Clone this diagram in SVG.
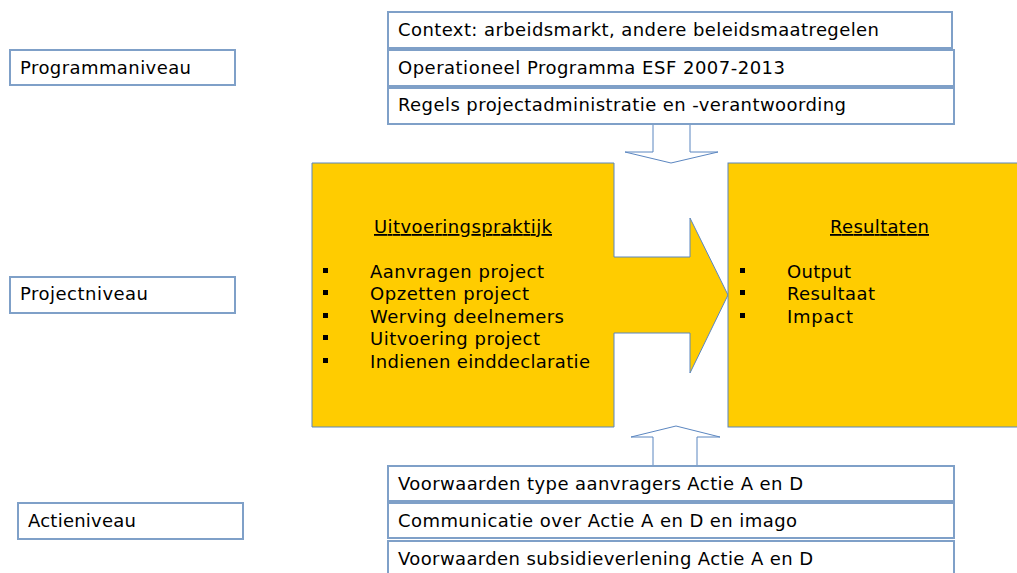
<svg xmlns="http://www.w3.org/2000/svg" width="1017" height="573" viewBox="0 0 1017 573">
<style>
.box{fill:#fff;stroke:#7fa0c8;stroke-width:2}
.ybox{fill:#ffcc00;stroke:#5b86c0;stroke-width:1}
.arr{fill:#fff;stroke:#5b86c0;stroke-width:1}
text{font-family:"DejaVu Sans",Verdana,sans-serif;font-size:18px;fill:#000}
.h{text-decoration:underline}
.b{fill:#000}
</style>
<rect width="1017" height="573" fill="#fff"/>
<g id="connectors">
<path class="arr" d="M653,124 V152 H625 L671,163 L718,152 H690 V124"/>
<path class="arr" d="M653,466 V437 H631 L676,426 L720,437 H697 V466"/>
</g>
<g id="programmaniveau"><rect class="box" x="10" y="50" width="225" height="35"/><text x="20" y="74" textLength="171">Programmaniveau</text></g>
<g id="projectniveau"><rect class="box" x="10" y="277" width="225" height="36"/><text x="20" y="300" textLength="128">Projectniveau</text></g>
<g id="actieniveau"><rect class="box" x="18" y="503" width="225" height="36"/><text x="28" y="527" textLength="108">Actieniveau</text></g>
<g id="context"><rect class="box" x="388" y="12" width="564" height="36"/><text x="398" y="36" textLength="481">Context: arbeidsmarkt, andere beleidsmaatregelen</text></g>
<g id="op"><rect class="box" x="388" y="50" width="566" height="36"/><text x="398" y="74" textLength="387">Operationeel Programma ESF 2007-2013</text></g>
<g id="regels"><rect class="box" x="388" y="88" width="566" height="36"/><text x="398" y="111" textLength="448">Regels projectadministratie en -verantwoording</text></g>
<g id="uitvoering">
<path class="ybox" d="M312,163 H614 V257 H690 V218 L728,295 L690,373 V333 H614 V427 H312 Z"/>
<text class="h" x="374" y="233" textLength="178">Uitvoeringspraktijk</text>
<rect class="b" x="323" y="268" width="5" height="5"/>
<rect class="b" x="323" y="290" width="5" height="5"/>
<rect class="b" x="323" y="313" width="5" height="5"/>
<rect class="b" x="323" y="335" width="5" height="5"/>
<rect class="b" x="323" y="358" width="5" height="5"/>
<text x="370" y="278" textLength="174">Aanvragen project</text>
<text x="370" y="300" textLength="159">Opzetten project</text>
<text x="370" y="323" textLength="194">Werving deelnemers</text>
<text x="370" y="345" textLength="170">Uitvoering project</text>
<text x="370" y="368" textLength="220">Indienen einddeclaratie</text>
</g>
<g id="resultaten">
<rect class="ybox" x="728" y="163" width="300" height="264"/>
<text class="h" x="830" y="233" textLength="99">Resultaten</text>
<rect class="b" x="740" y="268" width="5" height="5"/>
<rect class="b" x="740" y="290" width="5" height="5"/>
<rect class="b" x="740" y="313" width="5" height="5"/>
<text x="787" y="278" textLength="64">Output</text>
<text x="787" y="300" textLength="88">Resultaat</text>
<text x="787" y="323" textLength="66">Impact</text>
</g>
<g id="voorwaarden"><rect class="box" x="388" y="466" width="566" height="35"/><text x="398" y="490" textLength="405">Voorwaarden type aanvragers Actie A en D</text></g>
<g id="communicatie"><rect class="box" x="388" y="503" width="566" height="35"/><text x="398" y="527" textLength="399">Communicatie over Actie A en D en imago</text></g>
<g id="subsidie"><rect class="box" x="388" y="541" width="566" height="40"/><text x="398" y="565" textLength="415">Voorwaarden subsidieverlening Actie A en D</text></g>
</svg>
